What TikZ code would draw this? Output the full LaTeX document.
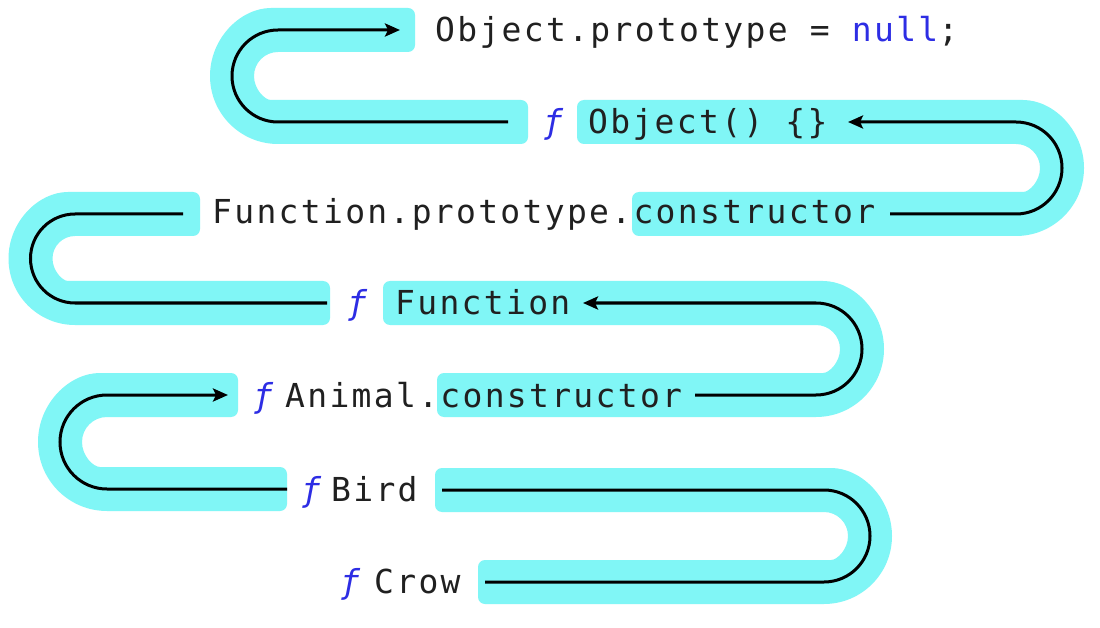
\documentclass[tikz,border=0pt]{standalone}
\usepackage{fontspec}
\usetikzlibrary{arrows.meta}
\newfontfamily\codefont[LetterSpace=7]{DejaVu Sans Mono}
\definecolor{bandcol}{RGB}{128,246,246}
\definecolor{ink}{RGB}{32,32,32}
\definecolor{kw}{RGB}{45,45,228}

% U-shaped highlight band, half width 22, arc on the left:
% #1 arc centre x, #2 upper row y, #3 lower row y, #4 upper end x, #5 lower end x
\newcommand{\bandleft}[5]{%
  \fill[bandcol, rounded corners=7pt]
    (#4,{-#2+22}) -- (#1,{-#2+22}) [sharp corners]
    arc[start angle=90, end angle=270, radius={(#3-#2)/2+22}]
    [rounded corners=7pt] -- (#5,{-#3-22}) -- (#5,{-#3+22}) -- (#1,{-#3+22}) [sharp corners]
    arc[start angle=270, end angle=90, radius={(#3-#2)/2-22}]
    [rounded corners=7pt] -- (#4,{-#2-22}) -- cycle;}
% same band with its arc on the right
\newcommand{\bandright}[5]{%
  \fill[bandcol, rounded corners=7pt]
    (#4,{-#2+22}) -- (#1,{-#2+22}) [sharp corners]
    arc[start angle=90, end angle=-90, radius={(#3-#2)/2+22}]
    [rounded corners=7pt] -- (#5,{-#3-22}) -- (#5,{-#3+22}) -- (#1,{-#3+22}) [sharp corners]
    arc[start angle=-90, end angle=90, radius={(#3-#2)/2-22}]
    [rounded corners=7pt] -- (#4,{-#2-22}) -- cycle;}

\begin{document}
\begin{tikzpicture}[x=1pt, y=1pt,
  code/.style={font=\codefont\fontsize{33}{40}\selectfont, text=ink, inner sep=0pt, anchor=base west},
  fn/.style={font=\codefont\itshape\fontsize{33}{40}\selectfont, text=kw, inner sep=0pt, anchor=base},
  conn/.style={draw=black, line width=3pt},
  arrowed/.style={conn, -{Stealth[length=15pt, width=13pt, inset=3pt]}}]

\fill[white] (0,0) rectangle (1100,-628);
\useasboundingbox (0,0) rectangle (1100,-628);

% highlight bands
\bandleft{278}{30}{122}{415}{528}
\bandright{1016}{122}{214}{577}{632}
\bandleft{75}{214}{303}{200}{330}
\bandright{816}{303}{395}{383}{437}
\bandleft{107}{395}{489}{238}{287}
\bandright{824}{490}{582}{435}{478}

% code lines
\node[code] (objproto) at (435,-42) {Object.prototype = \textcolor{kw}{null};};
\node[fn]   (f1) at (553,-134) {ƒ};
\node[code] (objfn) at (588,-134) {Object() \{\}};
\node[code] (funcproto) at (212,-224) {Function.prototype.constructor};
\node[fn]   (f2) at (357,-315) {ƒ};
\node[code] (funcfn) at (395,-315) {Function};
\node[fn]   (f3) at (263,-407) {ƒ};
\node[code] (animal) at (285,-407) {Animal.constructor};
\node[fn]   (f4) at (311,-501) {ƒ};
\node[code] (bird) at (331,-501) {Bird};
\node[fn]   (f5) at (350,-593) {ƒ};
\node[code] (crow) at (374,-593) {Crow};

% connector ends
\coordinate (aS) at (508,-122); \coordinate (aC) at (278,-122); \coordinate (aE) at (400,-30);
\coordinate (bS) at (890,-214); \coordinate (bC) at (1016,-214); \coordinate (bE) at (848,-122);
\coordinate (cS) at (183,-214); \coordinate (cC) at (75,-214);   \coordinate (cE) at (327,-303);
\coordinate (dS) at (695,-395); \coordinate (dC) at (816,-395);  \coordinate (dE) at (583,-303);
\coordinate (eS) at (287,-489); \coordinate (eC) at (107,-489);  \coordinate (eE) at (228,-395);
\coordinate (gS) at (442,-490); \coordinate (gC) at (824,-490);  \coordinate (gE) at (485,-582);

% prototype chain
\draw[arrowed] (aS) -- (aC) arc[start angle=270, end angle=90, radius=46] -- (aE);
\draw[arrowed] (bS) -- (bC) arc[start angle=-90, end angle=90, radius=46] -- (bE);
\draw[conn]    (cS) -- (cC) arc[start angle=90, end angle=270, radius=44.5] -- (cE);
\draw[arrowed] (dS) -- (dC) arc[start angle=-90, end angle=90, radius=46] -- (dE);
\draw[arrowed] (eS) -- (eC) arc[start angle=270, end angle=90, radius=47] -- (eE);
\draw[conn]    (gS) -- (gC) arc[start angle=90, end angle=-90, radius=46] -- (gE);
\end{tikzpicture}
\end{document}
